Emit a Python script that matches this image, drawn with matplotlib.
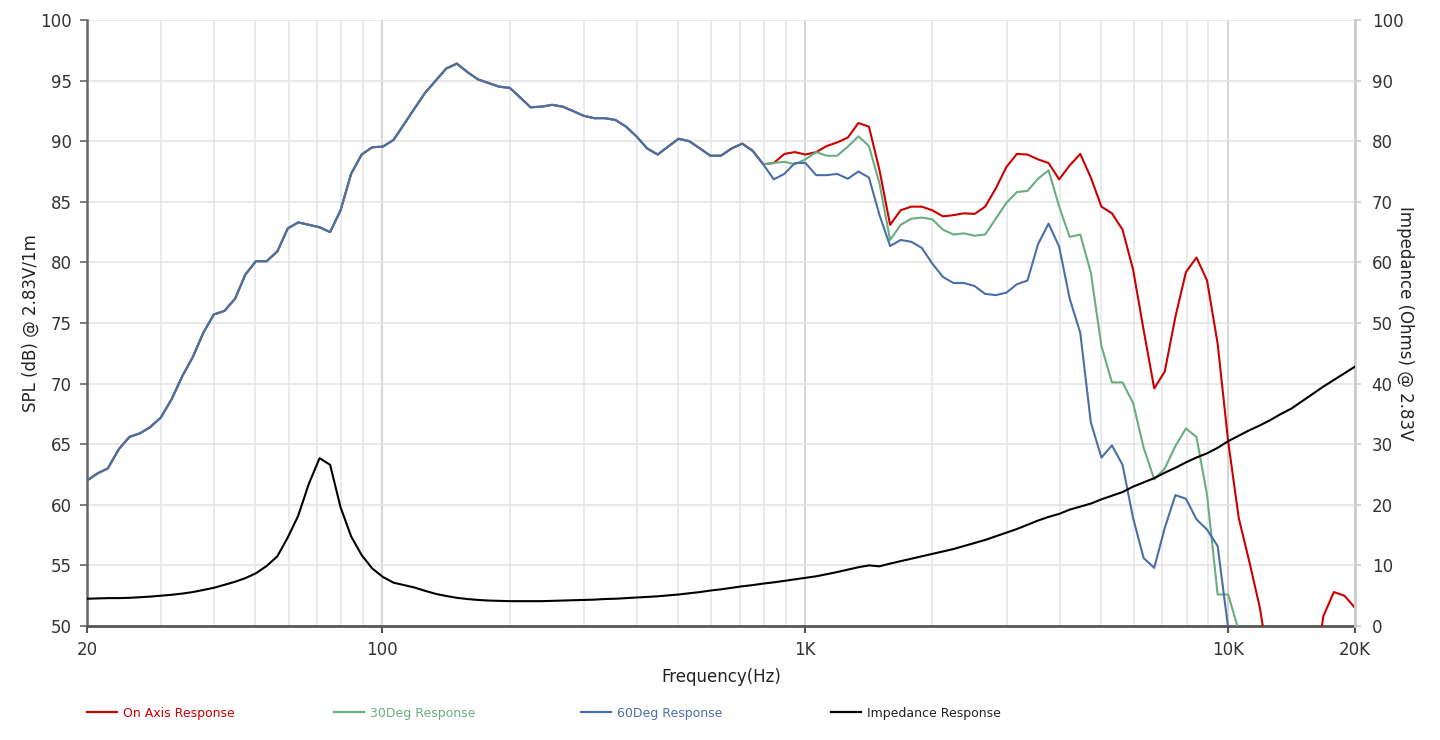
import matplotlib
matplotlib.use("Agg")
import matplotlib.pyplot as plt
from matplotlib.ticker import FixedLocator, NullFormatter
from matplotlib.lines import Line2D

# ---------------- data ----------------
freq_hz = [
    20.0, 21.2, 22.4, 23.8, 25.2, 26.7, 28.2, 29.9, 31.7, 33.6,
    35.6, 37.7, 39.9, 42.3, 44.8, 47.4, 50.2, 53.2, 56.4, 59.7,
    63.2, 67.0, 71.0, 75.2, 79.6, 84.3, 89.3, 94.6, 100.2, 106.2,
    112.5, 119.1, 126.2, 133.7, 141.6, 150.0, 158.9, 168.3, 178.3, 188.8,
    200, 212, 224, 238, 252, 267, 282, 299, 317, 336,
    356, 377, 399, 423, 448, 474, 502, 532, 564, 597,
    632, 670, 710, 752, 796, 843, 893, 946, 1002, 1062,
    1125, 1191, 1262, 1337, 1416, 1500, 1589, 1683, 1783, 1888,
    2000, 2119, 2244, 2377, 2518, 2667, 2825, 2992, 3170, 3358,
    3557, 3767, 3991, 4227, 4477, 4743, 5024, 5321, 5637, 5971,
    6325, 6699, 7096, 7517, 7962, 8434, 8934, 9463, 10024, 10618,
    11247, 11913, 12619, 13367, 14159, 14998, 15887, 16828, 17825, 18881,
    20000,
]

# SPL shared by all three responses below ~800 Hz
spl_shared_low = [
    62.0, 62.6, 63.0, 64.6, 65.6, 65.9, 66.4, 67.2, 68.7, 70.6,
    72.2, 74.2, 75.7, 76.0, 77.0, 79.0, 80.1, 80.1, 80.9, 82.8,
    83.3, 83.1, 82.9, 82.5, 84.3, 87.3, 88.9, 89.5, 89.55, 90.1,
    91.4, 92.7, 94.0, 95.0, 96.0, 96.4, 95.7, 95.1, 94.8, 94.5,
    94.4, 93.6, 92.8, 92.85, 93.0, 92.85, 92.5, 92.1, 91.9, 91.9,
    91.75, 91.2, 90.4, 89.4, 88.9, 89.55, 90.2, 90.0, 89.4, 88.8,
    88.8, 89.4, 89.8, 89.2, 88.1,
]

on_axis_high = [
    88.2, 88.95, 89.1, 88.9, 89.1, 89.6, 89.9, 90.3, 91.5, 91.2,
    87.6, 83.1, 84.3, 84.6, 84.6, 84.3, 83.8, 83.9, 84.05, 84.0,
    84.6, 86.1, 87.85, 88.95, 88.9, 88.5, 88.2, 86.85, 88.0, 88.95,
    87.0, 84.6, 84.05, 82.7, 79.4, 74.4, 69.6, 71.0, 75.5, 79.2,
    80.4, 78.5, 73.3, 65.2, 58.9, 55.3, 51.5, 46.0, 43.0, 41.5,
    42.0, 44.6, 50.8, 52.8, 52.5, 51.5,
]

deg30_high = [
    88.2, 88.3, 88.1, 88.5, 89.1, 88.8, 88.8, 89.55, 90.4, 89.6,
    86.5, 81.85, 83.1, 83.6, 83.7, 83.55, 82.7, 82.3, 82.4, 82.2,
    82.3, 83.6, 84.9, 85.8, 85.9, 86.9, 87.6, 84.6, 82.1, 82.3,
    79.15, 73.1, 70.1, 70.1, 68.4, 64.7, 62.1, 63.0, 64.85, 66.3,
    65.6, 60.8, 52.6, 52.6, 49.6, 47.0, 45.0, 43.5, 42.5, 42.0,
    41.5, 41.0, 40.5, 40.0, 39.5, 39.0,
]

deg60_high = [
    86.85, 87.3, 88.2, 88.2, 87.2, 87.2, 87.3, 86.9, 87.5, 87.0,
    83.9, 81.35, 81.85, 81.7, 81.2, 79.9, 78.8, 78.3, 78.3, 78.05,
    77.4, 77.3, 77.5, 78.2, 78.5, 81.5, 83.2, 81.3, 77.0, 74.2,
    66.8, 63.9, 64.9, 63.3, 58.9, 55.6, 54.8, 58.1, 60.8, 60.5,
    58.8, 57.95, 56.6, 49.8, 45.0, 43.0, 42.0, 41.0, 40.5, 40.0,
    39.5, 39.0, 38.5, 38.0, 37.5, 37.0,
]

impedance_ohm = [
    4.5, 4.55, 4.6, 4.6, 4.65, 4.75, 4.85, 5.0, 5.15, 5.35,
    5.6, 5.95, 6.3, 6.8, 7.3, 7.9, 8.7, 9.9, 11.5, 14.6,
    18.2, 23.5, 27.7, 26.6, 19.6, 14.8, 11.7, 9.5, 8.1, 7.15,
    6.75, 6.35, 5.8, 5.3, 4.95, 4.65, 4.45, 4.3, 4.2, 4.15,
    4.1, 4.1, 4.1, 4.1, 4.15, 4.2, 4.25, 4.3, 4.35, 4.45,
    4.5, 4.6, 4.7, 4.8, 4.9, 5.05, 5.2, 5.4, 5.6, 5.85,
    6.05, 6.3, 6.55, 6.75, 7.0, 7.2, 7.45, 7.7, 7.95, 8.2,
    8.55, 8.9, 9.3, 9.7, 10.0, 9.85, 10.3, 10.7, 11.1, 11.5,
    11.9, 12.3, 12.7, 13.2, 13.7, 14.2, 14.8, 15.4, 16.0, 16.7,
    17.4, 18.0, 18.5, 19.2, 19.7, 20.2, 20.9, 21.5, 22.1, 23.0,
    23.7, 24.4, 25.3, 26.1, 27.0, 27.8, 28.5, 29.4, 30.5, 31.4,
    32.3, 33.1, 34.0, 35.0, 35.9, 37.1, 38.3, 39.5, 40.6, 41.7,
    42.8,
]

on_axis = spl_shared_low + on_axis_high
deg30 = spl_shared_low + deg30_high
deg60 = spl_shared_low + deg60_high

x_tick_vals = [20, 100, 1000, 10000, 20000]
x_tick_labels = ["20", "100", "1K", "10K", "20K"]
x_minor_vals = [30, 40, 50, 60, 70, 80, 90, 200, 300, 400, 500, 600, 700, 800, 900,
                2000, 3000, 4000, 5000, 6000, 7000, 8000, 9000]
spl_ticks = [50, 55, 60, 65, 70, 75, 80, 85, 90, 95, 100]
imp_ticks = [0, 10, 20, 30, 40, 50, 60, 70, 80, 90, 100]

series_labels = ["On Axis Response", "30Deg Response", "60Deg Response", "Impedance Response"]

# ---------------- style ----------------
C_RED = "#cc0000"
C_GREEN = "#6aad80"
C_BLUE = "#4a6fa8"
C_BLACK = "#000000"
TICK_C = "#333333"

plt.rcParams["font.family"] = ["DejaVu Sans"]

fig = plt.figure(figsize=(14.4, 7.4), dpi=100)
ax = fig.add_axes([87 / 1440, 114 / 740, 1268 / 1440, 606 / 740])
ax2 = ax.twinx()

lw = 1.5
ax.plot(freq_hz, on_axis, color=C_RED, lw=lw, zorder=3)
ax.plot(freq_hz, deg30, color=C_GREEN, lw=lw, zorder=4)
ax.plot(freq_hz, deg60, color=C_BLUE, lw=lw, zorder=5)
ax2.plot(freq_hz, impedance_ohm, color=C_BLACK, lw=lw, zorder=3)

ax.set_xscale("log")
ax.set_xlim(20, 20000)
ax.set_ylim(50, 100)
ax2.set_ylim(0, 100)

ax.xaxis.set_major_locator(FixedLocator(x_tick_vals))
ax.set_xticklabels(x_tick_labels)
ax.xaxis.set_minor_locator(FixedLocator(x_minor_vals))
ax.xaxis.set_minor_formatter(NullFormatter())
ax.set_yticks(spl_ticks)
ax2.set_yticks(imp_ticks)

ax.grid(which="major", axis="x", color="#d2d2d2", lw=1.3)
ax.grid(which="minor", axis="x", color="#e8e8e8", lw=1.2)
ax.grid(which="major", axis="y", color="#e4e4e4", lw=1.2)
ax.set_axisbelow(True)

ax.tick_params(axis="x", which="major", length=5, width=1.5, color="#555555",
               labelsize=12, labelcolor=TICK_C, pad=6)
ax.tick_params(axis="x", which="minor", length=0)
ax.tick_params(axis="y", length=5, width=1.2, color="#666666",
               labelsize=12, labelcolor=TICK_C, pad=6)
ax2.tick_params(axis="y", length=4, width=1.2, color="#cccccc",
                labelsize=12, labelcolor=TICK_C, pad=8)

for a in (ax, ax2):
    a.spines["top"].set_visible(False)
ax.spines["left"].set_color("#666666")
ax.spines["left"].set_linewidth(1.8)
ax.spines["bottom"].set_color("#555555")
ax.spines["bottom"].set_linewidth(2.0)
ax2.spines["right"].set_color("#cccccc")
ax2.spines["right"].set_linewidth(2.0)
ax2.spines["left"].set_visible(False)
ax2.spines["bottom"].set_visible(False)
ax.spines["right"].set_visible(False)

ax.set_xlabel("Frequency(Hz)", fontsize=12, color="#222222", labelpad=6)
ax.set_ylabel("SPL (dB) @ 2.83V/1m", fontsize=12, color="#222222", labelpad=0)
ax2.set_ylabel("Impedance (Ohms) @ 2.83V", fontsize=12, color="#222222",
               rotation=-90, labelpad=8)

# legend: four separate entries along the bottom
leg_x = [87, 334, 581, 831]
leg_colors = [C_RED, C_GREEN, C_BLUE, C_BLACK]
text_colors = [C_RED, C_GREEN, C_BLUE, "#222222"]
for xp, lab, c, tc in zip(leg_x, series_labels, leg_colors, text_colors):
    h = Line2D([], [], color=c, lw=1.6)
    lg = fig.legend([h], [lab], loc="center left",
                    bbox_to_anchor=(xp / 1440, 1 - 713 / 740),
                    frameon=False, fontsize=9, handlelength=2.4,
                    handletextpad=0.45, borderpad=0, borderaxespad=0)
    lg.get_texts()[0].set_color(tc)

fig.savefig("out.png", dpi=100)
